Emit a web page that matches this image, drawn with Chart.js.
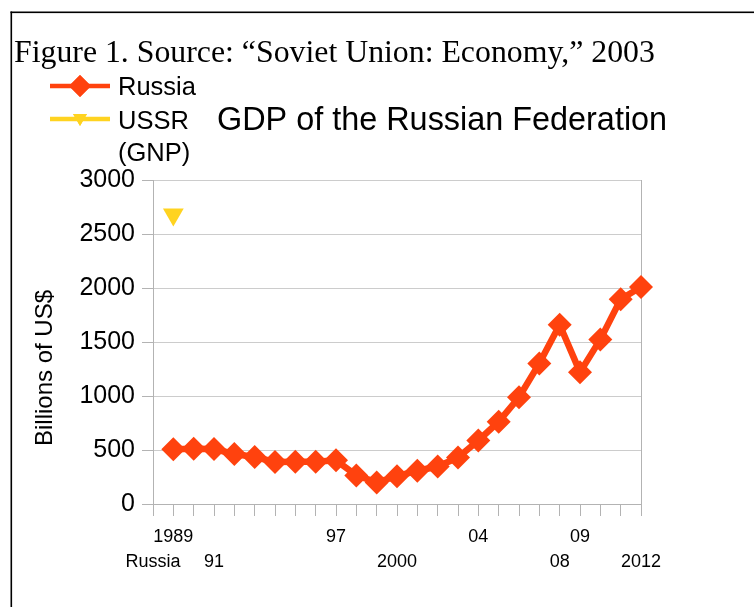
<!DOCTYPE html>
<html>
<head>
<meta charset="utf-8">
<script src="https://cdn.jsdelivr.net/npm/chart.js@4/dist/chart.umd.min.js"></script>
<style>
  html, body { margin: 0; padding: 0; background: #ffffff; }
  #wrap { width: 754px; height: 607px; position: relative; }
</style>
</head>
<body>
<div id="wrap"><canvas id="c" width="754" height="607"></canvas></div>
<script>
// ---- data ----
const years = ['1988','1989','1990','1991','1992','1993','1994','1995','1996','1997','1998','1999','2000',
               '2001','2002','2003','2004','2005','2006','2007','2008','2009','2010','2011','2012'];
const russiaGDP = [null, 506, 512, 509, 463, 435, 390, 392, 392, 404, 265, 200, 258,
                   308, 347, 430, 588, 762, 988, 1302, 1660, 1221, 1523, 1895, 2010];
const ussrGNP = [null, 2680, null, null, null, null, null, null, null, null, null, null, null,
                 null, null, null, null, null, null, null, null, null, null, null, null];
const tickTopRow    = ['', '1989', '', '', '', '', '', '', '', '97', '', '', '', '', '', '', '04', '', '', '', '', '09', '', '', ''];
const tickBottomRow = ['Russia', '', '', '91', '', '', '', '', '', '', '', '', '2000', '', '', '', '', '', '', '', '08', '', '', '', '2012'];
const yTicks = [0, 500, 1000, 1500, 2000, 2500, 3000];
const captionText = 'Figure 1. Source: \u201cSoviet Union: Economy,\u201d 2003';
const titleText = 'GDP of the Russian Federation';
const yTitleText = 'Billions of US$';
const seriesNames = ['Russia', ['USSR', '(GNP)']];

const RED = '#ff420e';
const YEL = '#ffd320';
const SANS = "'Liberation Sans', Arial, sans-serif";
const SERIF = "'Liberation Serif', 'Times New Roman', serif";

const decor = {
  id: 'decor',
  beforeDraw(chart) {
    const ctx = chart.ctx;
    ctx.save();
    ctx.fillStyle = '#ffffff';
    ctx.fillRect(0, 0, chart.width, chart.height);
    ctx.fillStyle = '#000000';
    ctx.fillRect(10.5, 11.5, chart.width, 1.6);
    ctx.fillRect(10.5, 11.5, 1.6, chart.height);
    ctx.restore();
  },
  afterDraw(chart) {
    const ctx = chart.ctx;
    ctx.save();
    ctx.fillStyle = '#000000';
    // caption
    ctx.font = '31.8px ' + SERIF;
    ctx.textBaseline = 'alphabetic';
    ctx.textAlign = 'left';
    ctx.fillText(captionText, 14, 62);
    // chart title
    ctx.font = '32.4px ' + SANS;
    ctx.fillText(titleText, 217, 130);
    // y title
    ctx.save();
    ctx.translate(52, 368);
    ctx.rotate(-Math.PI / 2);
    ctx.font = '24px ' + SANS;
    ctx.textAlign = 'center';
    ctx.fillText(yTitleText, 0, 0);
    ctx.restore();
    // legend
    ctx.lineWidth = 4.5;
    ctx.strokeStyle = RED;
    ctx.beginPath(); ctx.moveTo(50, 86); ctx.lineTo(110, 86); ctx.stroke();
    ctx.fillStyle = RED;
    Chart.helpers.drawPoint(ctx, {pointStyle: 'rectRot', radius: 11, rotation: 0, borderWidth: 0}, 80, 86);
    ctx.fill();
    ctx.strokeStyle = YEL;
    ctx.beginPath(); ctx.moveTo(50, 119); ctx.lineTo(110, 119); ctx.stroke();
    ctx.fillStyle = YEL;
    Chart.helpers.drawPoint(ctx, {pointStyle: 'triangle', radius: 8, rotation: 180, borderWidth: 0}, 80, 118);
    ctx.fill();
    ctx.fillStyle = '#000000';
    ctx.font = '25.5px ' + SANS;
    ctx.fillText(seriesNames[0], 118, 95);
    ctx.fillText(seriesNames[1][0], 118, 129);
    ctx.fillText(seriesNames[1][1], 118, 161);
    ctx.restore();
  }
};

Chart.defaults.font.family = SANS;
Chart.defaults.color = '#000000';

new Chart(document.getElementById('c'), {
  type: 'line',
  data: {
    labels: years,
    datasets: [
      {
        label: 'Russia',
        data: russiaGDP,
        borderColor: RED,
        backgroundColor: RED,
        borderWidth: 6.5,
        pointStyle: 'rectRot',
        pointRadius: 12,
        pointHoverRadius: 12,
        pointBorderWidth: 0,
        pointBackgroundColor: RED,
        tension: 0,
        clip: false,
        spanGaps: false
      },
      {
        label: 'USSR (GNP)',
        data: ussrGNP,
        borderColor: YEL,
        backgroundColor: YEL,
        showLine: false,
        pointStyle: 'triangle',
        rotation: 180,
        pointRadius: 12,
        pointHoverRadius: 12,
        pointBorderWidth: 0,
        pointBackgroundColor: YEL,
        clip: false
      }
    ]
  },
  options: {
    responsive: false,
    animation: false,
    devicePixelRatio: 1,
    layout: { padding: { left: 0, right: 113, top: 180, bottom: 0 } },
    plugins: {
      legend: { display: false },
      title: { display: false },
      tooltip: { enabled: false }
    },
    scales: {
      x: {
        type: 'category',
        offset: false,
        border: { display: true, color: '#b3b3b3', width: 1 },
        grid: {
          drawOnChartArea: true,
          drawTicks: true,
          tickLength: 12,
          tickColor: '#b3b3b3',
          color: (c) => (c.index === years.length - 1 ? '#b3b3b3' : 'rgba(0,0,0,0)')
        },
        ticks: {
          autoSkip: false,
          maxRotation: 0,
          minRotation: 0,
          padding: 8,
          color: '#000000',
          font: { size: 18, lineHeight: 1.4 },
          callback: (v, i) => [tickTopRow[i], tickBottomRow[i]]
        },
        afterFit: (s) => { s.height = 103; }
      },
      y: {
        min: 0,
        max: 3000,
        border: { display: true, color: '#b3b3b3', width: 1 },
        grid: { color: '#cccccc', tickColor: '#b3b3b3', tickLength: 11, drawTicks: true },
        ticks: {
          stepSize: 500,
          padding: 7,
          color: '#000000',
          font: { size: 25 },
          callback: (v) => (yTicks.includes(v) ? String(v) : '')
        },
        title: { display: false },
        afterFit: (s) => { s.width = 153; }
      }
    }
  },
  plugins: [decor]
});
</script>
</body>
</html>
